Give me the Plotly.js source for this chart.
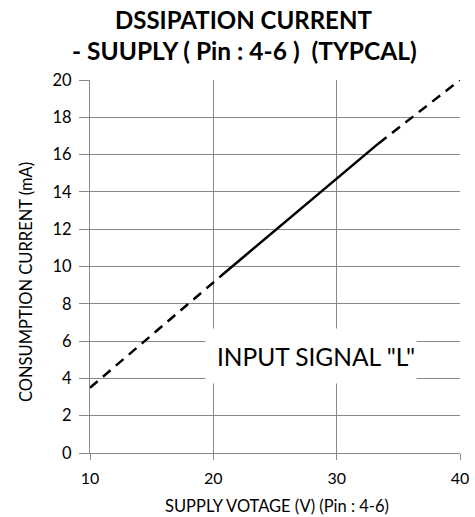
<!DOCTYPE html>
<html>
<head>
<meta charset="utf-8">
<script src="https://cdn.plot.ly/plotly-3.0.1.min.js"></script>
<style>html,body{margin:0;padding:0;background:#fff;}#chart{width:475px;height:517px;}</style>
</head>
<body>
<div id="chart"></div>
<script>
// Data
const dashLowX = [10, 20, 20.9];
const dashLowY = [3.5, 9.1, 9.65];
const solidX = [20.9, 25, 30, 33.4];
const solidY = [9.65, 11.93, 14.7, 16.6];
const dashHighX = [33.4, 40];
const dashHighY = [16.6, 20];
const xTicks = [10, 20, 30, 40];
const yTicks = [0, 2, 4, 6, 8, 10, 12, 14, 16, 18, 20];
const titleLines = ['DSSIPATION CURRENT', '- SUUPLY ( Pin : 4-6 )  (TYPCAL)'];
const xTitle = 'SUPPLY VOTAGE (V) (Pin : 4-6)';
const yTitle = 'CONSUMPTION CURRENT (mA)';
const labelText = 'INPUT SIGNAL "L"';
const labelPos = [27.9, 5.2];

const FONT = 'Lato, "Open Sans", sans-serif';
const GRID = '#888888';
const lineStyle = {color: '#000', width: 2.5};
const ML = 90, MR = 15, MT = 80, MB = 64;
const PLOT_W = 475 - ML - MR;
const PLOT_H = 517 - MT - MB;

const traces = [
  {x: dashLowX, y: dashLowY, mode: 'lines', line: Object.assign({dash: '10px,7px'}, lineStyle), hoverinfo: 'skip'},
  {x: solidX, y: solidY, mode: 'lines', line: Object.assign({dash: 'solid'}, lineStyle), hoverinfo: 'skip'},
  {x: dashHighX, y: dashHighY, mode: 'lines', line: Object.assign({dash: '10px,7px'}, lineStyle), hoverinfo: 'skip'}
];

function pY(py) { return (517 - MB - py) / PLOT_H; }
function pX(px) { return (px - ML) / PLOT_W; }

const layout = {
  width: 475, height: 517,
  margin: {l: ML, r: MR, t: MT, b: MB},
  paper_bgcolor: '#fff', plot_bgcolor: '#fff',
  showlegend: false,
  font: {family: FONT, color: '#000'},
  xaxis: {
    range: [10, 40], tickvals: xTicks, ticktext: xTicks.map(String),
    showgrid: true, gridcolor: GRID, gridwidth: 1,
    showline: true, linecolor: GRID, linewidth: 1,
    ticks: 'outside', ticklen: 6, tickcolor: GRID, tickwidth: 1, ticklabelstandoff: 5,
    zeroline: false, tickfont: {size: 16, family: FONT}
  },
  yaxis: {
    range: [0, 20], tickvals: yTicks, ticktext: yTicks.map(String),
    showgrid: true, gridcolor: GRID, gridwidth: 1,
    showline: true, linecolor: GRID, linewidth: 1,
    ticks: 'outside', ticklen: 10, tickcolor: GRID, tickwidth: 1, ticklabelstandoff: 4,
    zeroline: false, tickfont: {size: 16.5, family: FONT}
  },
  annotations: [
    {
      x: pX(243), y: pY(20), xref: 'paper', yref: 'paper', xanchor: 'center', yanchor: 'middle',
      text: '<b>' + titleLines[0] + '</b>', showarrow: false,
      font: {size: 24, family: FONT, color: '#000'}
    },
    {
      x: pX(244), y: pY(51), xref: 'paper', yref: 'paper', xanchor: 'center', yanchor: 'middle',
      text: '<b>' + titleLines[1] + '</b>', showarrow: false,
      font: {size: 24.5, family: FONT, color: '#000'}
    },
    {
      x: pX(277), y: pY(506), xref: 'paper', yref: 'paper', xanchor: 'center', yanchor: 'middle',
      text: xTitle, showarrow: false,
      font: {size: 16.5, family: FONT, color: '#000'}
    },
    {
      x: pX(26), y: pY(282), xref: 'paper', yref: 'paper', xanchor: 'center', yanchor: 'middle',
      text: yTitle, showarrow: false, textangle: -90,
      font: {size: 16.5, family: FONT, color: '#000'}
    },
    {
      x: labelPos[0], y: labelPos[1], xref: 'x', yref: 'y',
      text: labelText, showarrow: false,
      font: {size: 24.5, family: FONT, color: '#000'},
      bgcolor: '#fff', width: 208, height: 52, align: 'right', valign: 'middle'
    }
  ]
};

Plotly.newPlot('chart', traces, layout, {staticPlot: true, displayModeBar: false});
</script>
</body>
</html>
